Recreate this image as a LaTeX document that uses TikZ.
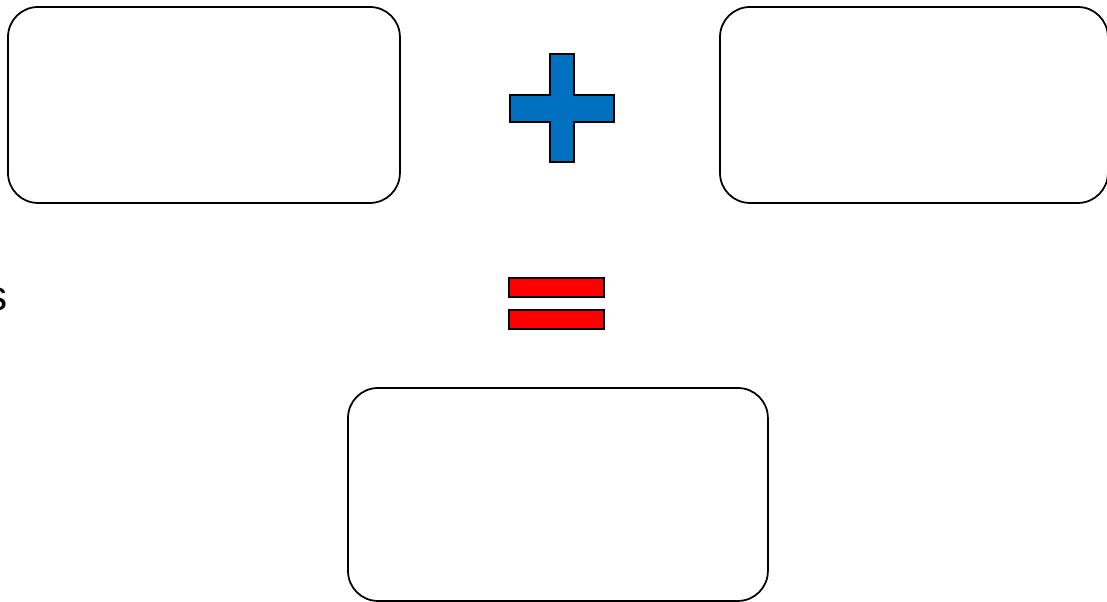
\documentclass[tikz,border=0pt]{standalone}
\usepackage{fontspec}
\setmainfont{Liberation Sans}
\begin{document}
\begin{tikzpicture}[x=0.02cm, y=-0.02cm,
    card/.style={draw, line width=1pt, rounded corners=0.6cm, anchor=north west,
                 inner sep=0pt, outer sep=0pt},
    opsign/.style={draw, line width=1pt, sharp corners},
    eqbar/.style={opsign, fill=red, anchor=north west, inner sep=0pt, outer sep=0pt,
                  minimum width=1.9cm, minimum height=0.38cm}
]
\useasboundingbox (0,0) rectangle (1107,602);

\node[card, minimum width=7.84cm, minimum height=3.92cm] (left)   at (8,7) {};
\node[card, minimum width=7.76cm, minimum height=3.92cm] (right)  at (720,7) {};
\node[card, minimum width=8.4cm,  minimum height=4.26cm] (result) at (348,388) {};

% plus sign
\draw[opsign, fill={rgb,255:red,0;green,112;blue,192}]
    (550,54) -- (574,54) -- (574,95) -- (614,95) -- (614,122) -- (574,122)
    -- (574,162) -- (550,162) -- (550,122) -- (510,122) -- (510,95) -- (550,95) -- cycle;

% equals sign
\node[eqbar] (eqtop) at (509,278) {};
\node[eqbar] (eqbot) at (509,310) {};

\node[anchor=base east, inner sep=0pt, font=\fontsize{24pt}{28pt}\selectfont] (cut) at (8,310) {s};
\end{tikzpicture}
\end{document}
